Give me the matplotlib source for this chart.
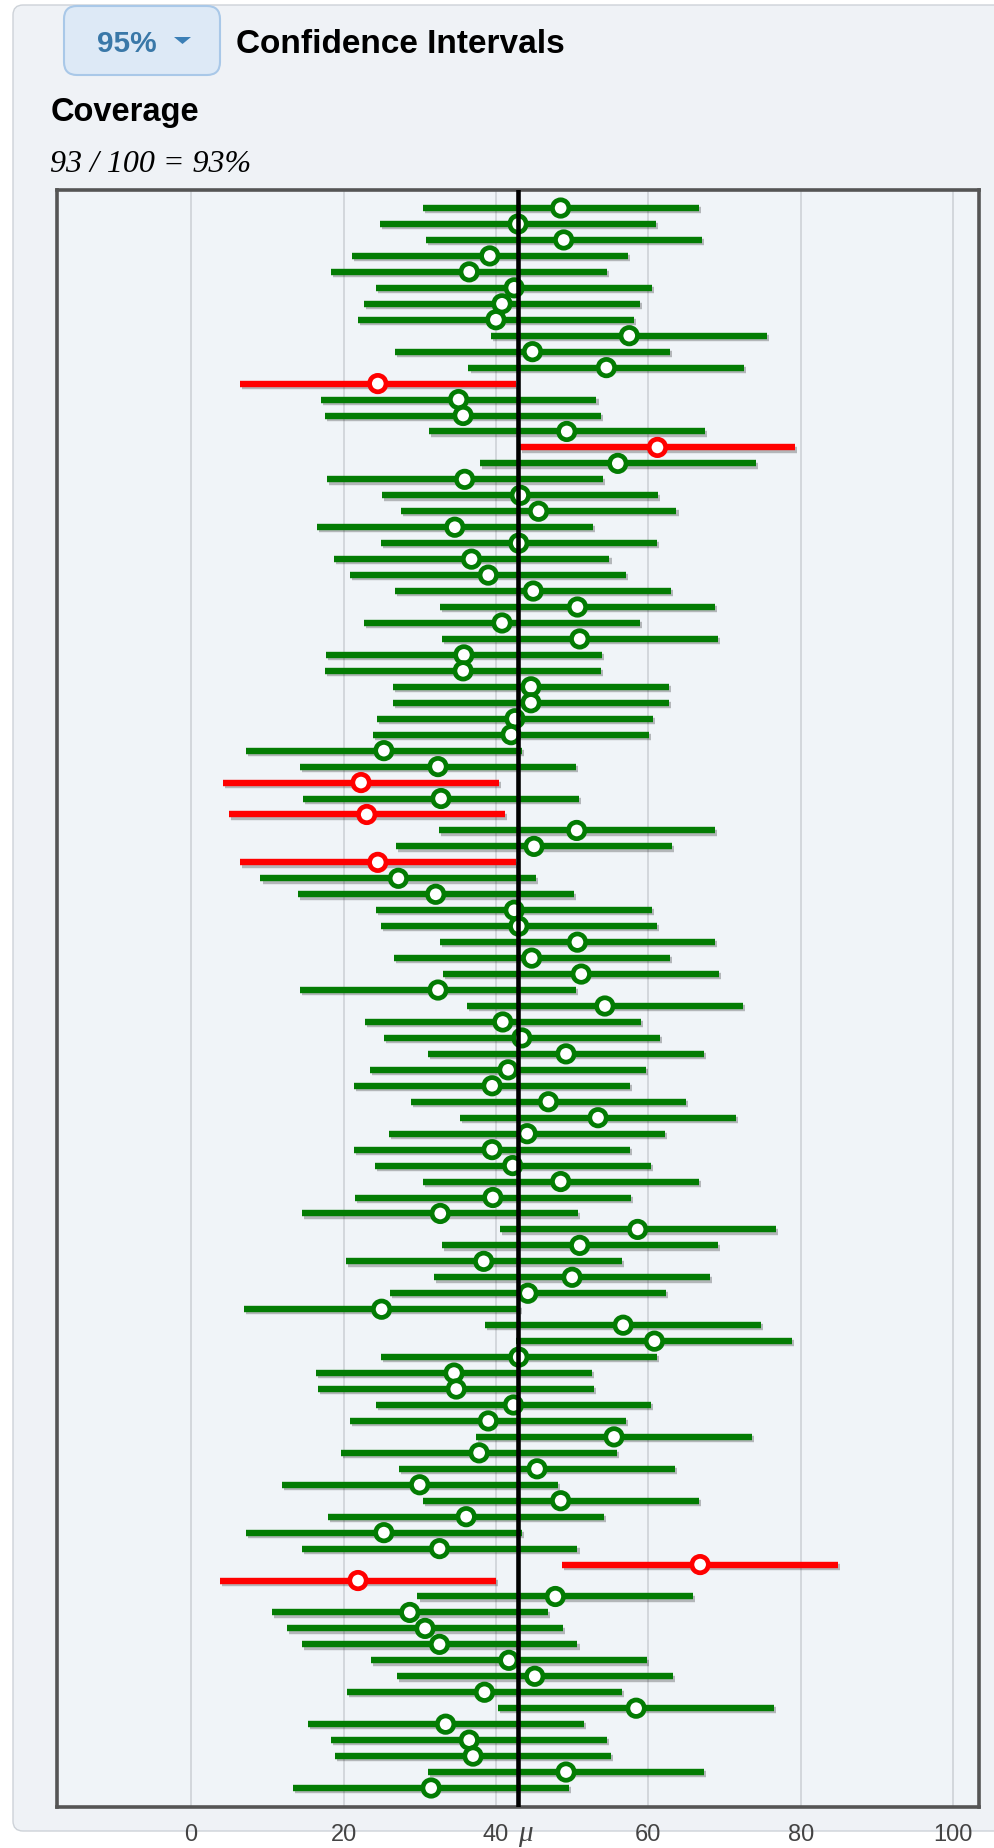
import matplotlib
matplotlib.use("Agg")
import matplotlib.pyplot as plt
import matplotlib.patheffects as pe
from matplotlib.patches import FancyBboxPatch, Polygon
from matplotlib import transforms
import numpy as np

# ---- data -------------------------------------------------------------
level_label = "95%"
title = "Confidence Intervals"
coverage_title = "Coverage"

mu = 42.9            # true population mean
half_width = 18.1    # half-width of each 95% interval

sample_means = [
    48.5, 42.9, 48.9, 39.2, 36.5, 42.4, 40.8, 40.0, 57.5, 44.8, 54.5, 24.5, 35.1,
    35.7, 49.3, 61.2, 56.0, 35.9, 43.2, 45.6, 34.6, 43.0, 36.8, 39.0, 44.9, 50.7,
    40.8, 51.0, 35.8, 35.7, 44.6, 44.6, 42.5, 42.0, 25.3, 32.4, 22.3, 32.8, 23.05,
    50.6, 45.0, 24.5, 27.2, 32.1, 42.4, 43.0, 50.7, 44.7, 51.2, 32.4, 54.3,
    40.9, 43.4, 49.2, 41.6, 39.5, 46.9, 53.4, 44.1, 39.5, 42.2, 48.5, 39.6,
    32.7, 58.6, 51.0, 38.4, 50.0, 44.2, 25.0, 56.7, 60.8, 43.0, 34.5, 34.8, 42.3,
    39.0, 55.5, 37.8, 45.4, 30.0, 48.5, 36.1, 25.3, 32.6, 66.8, 21.9, 47.8,
    28.7, 30.7, 32.6, 41.7, 45.1, 38.5, 58.4, 33.4, 36.5, 37.0, 49.2, 31.5,
]

x_ticks = [0, 20, 40, 60, 80, 100]
x_tick_labels = ["0", "20", "40", "60", "80", "100"]

# ---- colours ------------------------------------------------------------
GREEN = "#037c03"
RED = "#ff0000"
PANEL = "#eff2f6"
PLOT_BG = "#f0f4f8"

W, H, DPI = 994, 1848, 100

means = np.array(sample_means)
n = len(means)
rows = np.arange(n)
lo = means - half_width
hi = means + half_width
covered = (lo <= mu) & (hi >= mu)
colors = np.where(covered, GREEN, RED)
n_cov = int(covered.sum())

fig = plt.figure(figsize=(W / DPI, H / DPI), dpi=DPI)
fig.patch.set_facecolor("white")
inch = fig.dpi_scale_trans


def px(x, y):
    """Pixel position measured from the top-left corner -> inches."""
    return x / DPI, (H - y) / DPI


# background panel with rounded corner
x0, y0 = px(13, 1831)
panel = FancyBboxPatch((x0, y0), (W + 40 - 13) / DPI, (1831 - 5) / DPI,
                       boxstyle="round,pad=0,rounding_size=0.1",
                       transform=inch, facecolor=PANEL, edgecolor="#cdd2d8",
                       linewidth=1.0, zorder=-10)
fig.patches.append(panel)

# level selector button
bx, by = px(64, 75)
button = FancyBboxPatch((bx, by), (220 - 64) / DPI, (75 - 6) / DPI,
                        boxstyle="round,pad=0,rounding_size=0.13",
                        transform=inch, facecolor="#dde9f6", edgecolor="#a9c8e8",
                        linewidth=1.5, zorder=1)
fig.patches.append(button)
tri = Polygon([px(174, 37), px(191, 37), px(182.5, 44)], closed=True,
              transform=inch, facecolor="#3b7fb6", edgecolor="none", zorder=2)
fig.patches.append(tri)

fig.text(*px(97, 52), level_label, transform=inch, fontsize=21.5,
         fontweight="bold", color="#3a78a8", family="Liberation Sans",
         va="baseline", ha="left")
fig.text(*px(236, 53), title, transform=inch, fontsize=24,
         fontweight="bold", color="black", family="Liberation Sans",
         va="baseline", ha="left")
fig.text(*px(51, 121), coverage_title, transform=inch, fontsize=23.5,
         fontweight="bold", color="black", family="Liberation Sans",
         va="baseline", ha="left")
fig.text(*px(50, 172), f"{n_cov} / {n} = {round(100 * n_cov / n)}%",
         transform=inch, fontsize=23, fontstyle="italic", color="black",
         family="Liberation Serif", va="baseline", ha="left")

# ---- interval plot ------------------------------------------------------------
ax = fig.add_axes([57 / W, (H - 1807) / H, (979 - 57) / W, (1807 - 190) / H])
ax.set_zorder(1)
ax.set_facecolor(PLOT_BG)
ax.set_xlim(-17.6, 103.4)
ax.set_ylim(n - 1 + 1.19, -1.13)

ax.set_xticks(x_ticks, x_tick_labels)
ax.set_yticks([])
ax.tick_params(axis="x", length=0, pad=12, labelsize=17, labelcolor="#444444")
for lab in ax.get_xticklabels():
    lab.set_family("Liberation Sans")
ax.grid(axis="x", color="#d0d4d9", linewidth=1.3)
ax.set_axisbelow(True)

for sp in ax.spines.values():
    sp.set_color("#555555")
    sp.set_linewidth(2.6)

segs = ax.hlines(rows, lo, hi, colors=colors, linewidth=4.6, zorder=3)
segs.set_capstyle("butt")
segs.set_path_effects([
    pe.SimpleLineShadow(offset=(1.5, -1.6), shadow_color="black", alpha=0.25),
    pe.Normal(),
])

dots = ax.scatter(means, rows, s=140, facecolors="white", edgecolors=colors,
                  linewidths=3.4, zorder=4)

ax.axvline(mu, color="black", linewidth=3.3, zorder=5)

# the mu marker under the axis, next to the tick labels
mu_trans = transforms.offset_copy(
    transforms.blended_transform_factory(ax.transData, ax.transAxes),
    fig=fig, x=0, y=-34, units="dots")
ax.text(mu, 0, "μ", transform=mu_trans, fontsize=21, fontstyle="italic",
        family="Liberation Serif", color="#444444", ha="left", va="baseline")

fig.savefig("out.png", dpi=DPI, facecolor=fig.get_facecolor())
